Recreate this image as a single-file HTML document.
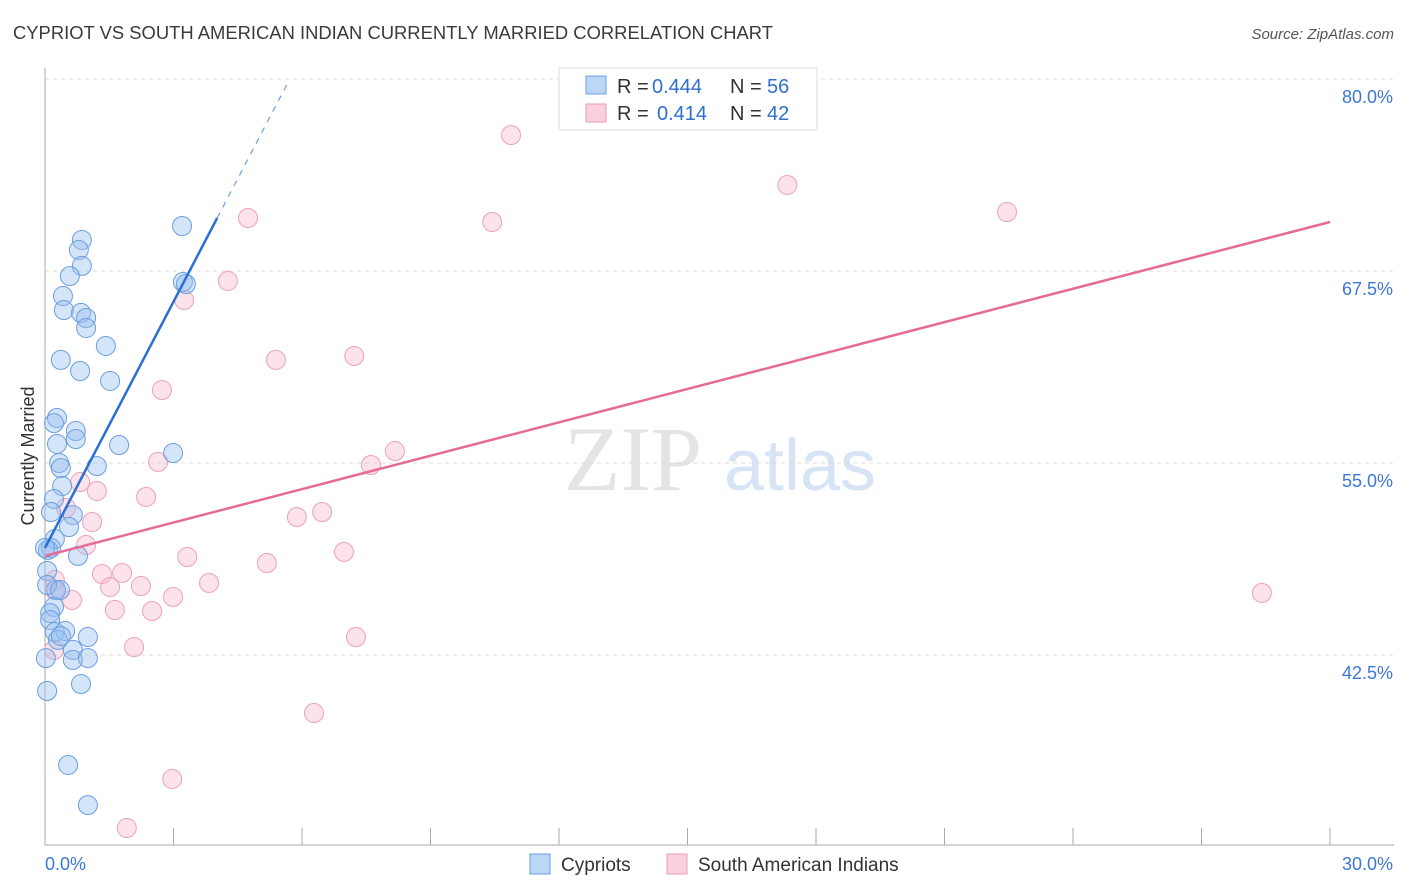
<!DOCTYPE html>
<html><head><meta charset="utf-8"><style>
body{margin:0;background:#fff;font-family:"Liberation Sans",sans-serif}
svg{display:block}
</style></head><body>
<svg id="c" width="1406" height="892">
<text x="13" y="39" font-size="18" fill="#3a3a3a" textLength="760" lengthAdjust="spacingAndGlyphs">CYPRIOT VS SOUTH AMERICAN INDIAN CURRENTLY MARRIED CORRELATION CHART</text>
<text x="1394" y="39" font-size="15" fill="#555" text-anchor="end" font-style="italic">Source: ZipAtlas.com</text>
<text x="633" y="490" font-size="92" fill="#e4e4e4" font-family="Liberation Serif" text-anchor="middle">ZIP</text>
<text x="800" y="490" font-size="72" fill="#d6e4f5" text-anchor="middle">atlas</text>
<text transform="translate(34,456) rotate(-90)" font-size="18" fill="#333" text-anchor="middle">Currently Married</text>
<g id="grid"></g><g id="pts"></g><g id="lines"></g>
<g>
<rect x="559" y="68" width="258" height="62" fill="#fff" stroke="#ddd"/>
<rect x="586" y="76" width="20" height="18" fill="#bcd6f5" stroke="#6a9fe0"/>
<rect x="586" y="104" width="20" height="18" fill="#fbd0dd" stroke="#eb9ab3"/>
<text x="617" y="93" font-size="20" fill="#333">R =</text>
<text x="652" y="93" font-size="20" fill="#2f6fd0">0.444</text>
<text x="730" y="93" font-size="20" fill="#333">N =</text>
<text x="767" y="93" font-size="20" fill="#2f6fd0">56</text>
<text x="617" y="120" font-size="20" fill="#333">R =</text>
<text x="657" y="120" font-size="20" fill="#2f6fd0">0.414</text>
<text x="730" y="120" font-size="20" fill="#333">N =</text>
<text x="767" y="120" font-size="20" fill="#2f6fd0">42</text>
</g>
<g>
<rect x="530" y="854" width="20" height="20" fill="#bcd6f5" stroke="#6a9fe0"/>
<text x="561" y="871" font-size="19" fill="#333">Cypriots</text>
<rect x="667" y="854" width="20" height="20" fill="#fbd0dd" stroke="#eb9ab3"/>
<text x="698" y="871" font-size="19" fill="#333">South American Indians</text>
</g>
</svg>
<script>
const yTicks=[80,67.5,55,42.5];
const yTickLabels=["80.0%","67.5%","55.0%","42.5%"];
const xTickLabels=["0.0%","30.0%"];
const blueX=[3.20,0.86,0.79,0.86,0.58,0.42,0.44,0.84,0.96,0.96,3.22,3.29,1.42,0.37,0.82,1.52,0.28,0.21,0.72,0.72,0.28,1.73,2.99,0.33,0.37,1.21,0.40,0.21,0.65,0.14,0.56,0.23,0.14,0.07,0.77,0.05,0.26,0.05,0.35,0.21,0.12,0.12,0.23,0.47,0.30,1.00,0.65,0.65,1.00,0.02,0.05,0.84,0.54,1.00,0.00,0.37];
const blueY=[70.43,69.52,68.87,67.83,67.17,65.87,64.96,64.77,64.44,63.79,66.78,66.65,62.62,61.71,60.99,60.34,57.93,57.60,57.08,56.56,56.24,56.17,55.65,55.00,54.67,54.80,53.50,52.66,51.61,51.81,50.83,50.05,49.47,49.34,48.95,47.97,46.73,47.06,46.73,45.63,45.23,44.78,44.00,44.06,43.48,43.67,42.83,42.18,42.30,42.30,40.16,40.61,35.34,32.73,49.47,43.74];
const pinkX=[10.88,17.33,22.46,10.44,4.74,4.27,3.25,5.39,7.22,2.73,2.64,8.17,7.61,0.82,1.21,2.36,0.49,1.10,5.88,6.47,0.96,3.32,6.98,5.18,1.33,1.80,0.23,1.52,2.24,3.83,0.63,2.99,1.63,2.50,28.41,0.23,2.08,7.26,0.21,6.28,2.97,1.91];
const pinkY=[76.35,73.10,71.34,70.69,70.95,66.85,65.61,61.71,61.97,59.75,55.07,55.78,54.87,53.76,53.18,52.79,52.07,51.16,51.48,51.81,49.66,48.88,49.21,48.49,47.77,47.84,47.38,46.93,46.99,47.19,46.08,46.28,45.43,45.36,46.54,46.73,43.02,43.67,42.83,38.72,34.43,31.24];
const blueTrend=[0,49.47,4.02,70.95,5.65];
const pinkTrend=[0,48.95,30,70.69];
const NS='http://www.w3.org/2000/svg';
const X=v=>45+v/30*1285, Y=v=>79+(80-v)*15.36;
function mk(t,a,p){const e=document.createElementNS(NS,t);for(const k in a)e.setAttribute(k,a[k]);document.getElementById(p).appendChild(e);return e;}
yTicks.forEach((t,i)=>{
 const g=mk('line',{x1:45,x2:1394,y1:Y(t),y2:Y(t),stroke:'#ddd','stroke-dasharray':'4,4'},'grid');
 
 
 const l=mk('text',{x:1393,y:Y(t)+24,'font-size':18,fill:'#3b78d8','text-anchor':'end'},'grid');l.textContent=yTickLabels[i];
 
 
});
const ax=mk('line',{x1:45,x2:45,y1:68,y2:845,stroke:'#aaa'},'grid');


const bx=mk('line',{x1:45,x2:1394,y1:845,y2:845,stroke:'#aaa'},'grid');


for(let i=0;i<=10;i++){const t=mk('line',{x1:X(i*3),x2:X(i*3),y1:828,y2:845,stroke:'#aaa'},'grid');
 
 }
xTickLabels.forEach((s,i)=>{const l=mk('text',{x:i?1393:45,y:870,'font-size':18,fill:'#3b78d8','text-anchor':i?'end':'start'},'grid');l.textContent=s;
 
 });
pinkX.forEach((v,i)=>{const c=mk('circle',{cx:X(v),cy:Y(pinkY[i]),r:9.5,fill:'rgba(248,182,202,0.4)',stroke:'#eda2b9','stroke-width':1},'pts');
 
 });
blueX.forEach((v,i)=>{const c=mk('circle',{cx:X(v),cy:Y(blueY[i]),r:9.5,fill:'rgba(150,190,240,0.4)',stroke:'#6a9fe0','stroke-width':1},'pts');
 
 });
const sl=(blueTrend[3]-blueTrend[1])/(blueTrend[2]-blueTrend[0]);
const b1=mk('line',{x1:X(blueTrend[0]),y1:Y(blueTrend[1]),x2:X(blueTrend[2]),y2:Y(blueTrend[3]),stroke:'#2a6fd6','stroke-width':2.5},'lines');


const b2=mk('line',{x1:X(blueTrend[2]),y1:Y(blueTrend[3]),x2:X(blueTrend[4]),y2:Y(blueTrend[3]+sl*(blueTrend[4]-blueTrend[2])),stroke:'#6a9fe0','stroke-width':1.2,'stroke-dasharray':'6,6'},'lines');


const p1=mk('line',{x1:X(pinkTrend[0]),y1:Y(pinkTrend[1]),x2:X(pinkTrend[2]),y2:Y(pinkTrend[3]),stroke:'#e56b95','stroke-width':2.5},'lines');


</script>
</body></html>
